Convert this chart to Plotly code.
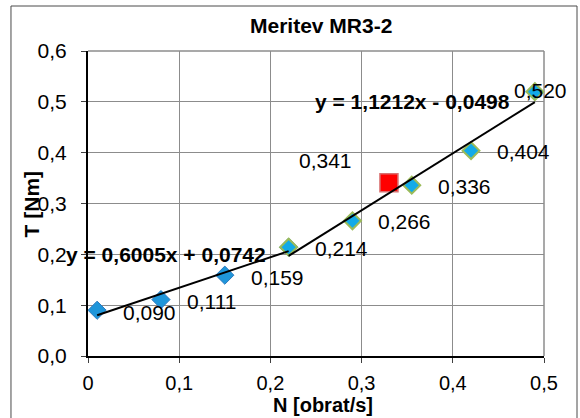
import plotly.graph_objects as go

# Measured torque vs. rotation speed (two regimes) and a single check point
n_low = [0.01, 0.08, 0.15, 0.22]
t_low = [0.090, 0.111, 0.159, 0.214]
n_high = [0.22, 0.29, 0.355, 0.42, 0.49]
t_high = [0.214, 0.266, 0.336, 0.404, 0.520]
n_check = [0.33]
t_check = [0.341]

# Linear trendline coefficients (slope, intercept) for each regime
fit_low = (0.6005, 0.0742)
fit_high = (1.1212, -0.0498)

x_ticks = [0, 0.1, 0.2, 0.3, 0.4, 0.5]
x_ticktext = ["0", "0,1", "0,2", "0,3", "0,4", "0,5"]
y_ticks = [0, 0.1, 0.2, 0.3, 0.4, 0.5, 0.6]
y_ticktext = ["0,0", "0,1", "0,2", "0,3", "0,4", "0,5", "0,6"]

FONT = "Liberation Sans, Arial, sans-serif"
FS = 21


def dec(v, nd=3):
    return f"{v:.{nd}f}".replace(".", ",")


def eq_text(fit):
    a, b = fit
    sign = "-" if b < 0 else "+"
    return f"y = {dec(a, 4)}x {sign} {dec(abs(b), 4)}"


def line_pts(xs, fit):
    a, b = fit
    x0, x1 = min(xs), max(xs)
    return [x0, x1], [a * x0 + b, a * x1 + b]


fig = go.Figure()

fig.add_trace(go.Scatter(
    x=n_low, y=t_low, mode="markers",
    marker=dict(symbol="diamond", size=14, color="#1F96DA",
                line=dict(color="#2C79BE", width=1)),
    showlegend=False, cliponaxis=False))
fig.add_trace(go.Scatter(
    x=n_high, y=t_high, mode="markers",
    marker=dict(symbol="diamond", size=13, color="#12AAE8",
                line=dict(color="#9BBB59", width=2)),
    showlegend=False, cliponaxis=False))
fig.add_trace(go.Scatter(
    x=n_check, y=t_check, mode="markers",
    marker=dict(symbol="square", size=18, color="#FF0000",
                line=dict(color="#D87070", width=1.5)),
    showlegend=False, cliponaxis=False))

for xs, fit in ((n_low, fit_low), (n_high, fit_high)):
    lx, ly = line_pts(xs, fit)
    fig.add_trace(go.Scatter(x=lx, y=ly, mode="lines",
                             line=dict(color="black", width=2),
                             showlegend=False, hoverinfo="skip"))

ann = []
lab_font = dict(family=FONT, size=FS, color="black")
# value labels to the right of each point
for x, y in zip(n_low[:-1], t_low[:-1]):
    ann.append(dict(x=x, y=y, text=dec(y), showarrow=False, xanchor="left",
                    yanchor="middle", xshift=24, yshift=-2, font=lab_font))
for x, y in zip(n_high[:-1], t_high[:-1]):
    ann.append(dict(x=x, y=y, text=dec(y), showarrow=False, xanchor="left",
                    yanchor="middle", xshift=24, yshift=-1, font=lab_font))
ann.append(dict(x=n_high[-1], y=t_high[-1], text=dec(t_high[-1]),
                showarrow=False, xanchor="center", yanchor="middle",
                xshift=6, yshift=1, font=lab_font))
ann.append(dict(x=n_check[0], y=t_check[0], text=dec(t_check[0]),
                showarrow=False, xanchor="left", yanchor="middle",
                xshift=-92, yshift=22, font=lab_font))

bold = dict(family=FONT, size=FS, color="black", weight="bold")
ann.append(dict(x=0.0855, y=0.2, text=eq_text(fit_low), showarrow=False,
                xanchor="center", yanchor="middle", font=bold))
ann.append(dict(x=0.3553, y=0.5, text=eq_text(fit_high), showarrow=False,
                xanchor="center", yanchor="middle", font=bold))

# chart title and axis titles
ann.append(dict(xref="paper", yref="paper", x=0.511, y=1.085,
                text="Meritev MR3-2", showarrow=False, xanchor="center",
                yanchor="middle", font=bold))
ann.append(dict(xref="paper", yref="paper", x=0.515, y=-0.2,
                text="N [obrat/s]", showarrow=False, xanchor="center",
                yanchor="bottom", borderpad=0,
                font=dict(family=FONT, size=20, color="black",
                          weight="bold")))
ann.append(dict(xref="paper", yref="paper", x=-0.123, y=0.5,
                text="T [Nm]", showarrow=False, xanchor="center",
                yanchor="middle", textangle=-90, font=bold))

shapes = [
    # outer chart frame
    dict(type="rect", xref="paper", yref="paper", x0=-0.1689, x1=1.0724,
         y0=-0.3, y1=1.1475, line=dict(color="#4A4A4A", width=1),
         layer="below"),
    # top and right edges of the plot area
    dict(type="line", xref="paper", yref="paper", x0=0, x1=1, y0=1, y1=1,
         line=dict(color="#8C8C8C", width=1.5), layer="below"),
    dict(type="line", xref="paper", yref="paper", x0=1, x1=1, y0=0, y1=1,
         line=dict(color="#8C8C8C", width=1.5), layer="below"),
]

axis_common = dict(
    showgrid=True, gridcolor="#8C8C8C", gridwidth=1, zeroline=False,
    showline=True, linecolor="black", linewidth=2,
    ticks="outside", ticklen=5, tickcolor="#404040", tickwidth=1,
)

fig.update_layout(
    width=580, height=418,
    margin=dict(l=88, r=36, t=51, b=62),
    paper_bgcolor="white", plot_bgcolor="white",
    xaxis=dict(range=[0, 0.5], tickmode="array", tickvals=x_ticks,
               ticktext=x_ticktext, ticklabelstandoff=3,
               tickfont=dict(family=FONT, size=20, color="black"),
               **axis_common),
    yaxis=dict(range=[0, 0.6], tickmode="array", tickvals=y_ticks,
               ticktext=y_ticktext, ticklabelstandoff=10,
               tickfont=dict(family=FONT, size=FS, color="black"),
               **axis_common),
    annotations=ann, shapes=shapes,
)

fig.write_html("out.html", config={"displayModeBar": False})
